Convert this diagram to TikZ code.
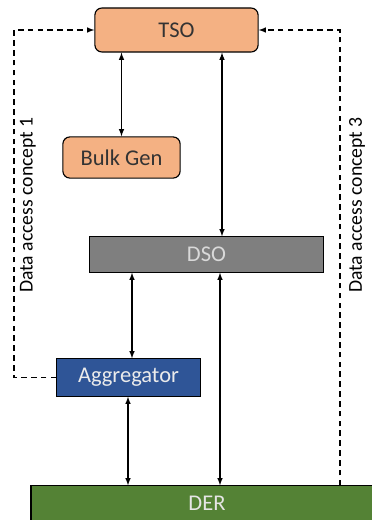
\documentclass[tikz,border=0pt]{standalone}
\usepackage{fontspec}
\setmainfont{Carlito}
\usepackage{tikz}
\usetikzlibrary{arrows}
\usepackage{xcolor}
\definecolor{tsoorange}{HTML}{F4B183}
\definecolor{dsogray}{HTML}{7F7F7F}
\definecolor{aggblue}{HTML}{2F5597}
\definecolor{dergreen}{HTML}{548235}

\begin{document}
\begin{tikzpicture}[x=0.025cm,y=-0.025cm,>=latex,
  box/.style={draw,line width=0.8pt,inner sep=0pt,font=\fontsize{16}{19}\selectfont},
  label/.style={rotate=90,font=\fontsize{14}{16}\selectfont}]
\useasboundingbox (0,0) rectangle (372,520);

\node[box,rounded corners=5pt,fill=tsoorange,text=black!80,minimum width=4.08cm,minimum height=1.1cm] (tso) at (176.5,30) {TSO};
\node[box,rounded corners=5pt,fill=tsoorange,text=black!80,minimum width=2.93cm,minimum height=1.03cm] (bulk) at (121.5,157.5) {Bulk Gen};
\node[box,fill=dsogray,text=black!15,minimum width=5.83cm,minimum height=0.88cm] (dso) at (206.5,254.5) {DSO};
\node[box,fill=aggblue,text=black!8,minimum width=3.58cm,minimum height=0.93cm] (agg) at (128.5,377.5) {Aggregator};
\node[box,fill=dergreen,text=black!10,minimum width=8.8cm,minimum height=0.88cm] (der) at (207,503.5) {DER};

\coordinate (a1) at (222,0);
\coordinate (a2) at (220,0);
\coordinate (a3) at (132,0);
\coordinate (a4) at (128,0);
\coordinate (lx) at (14,0);
\coordinate (rx) at (340,0);

\draw[<->,line width=0.8pt] (bulk.north |- tso.south) -- (bulk.north);
\draw[<->,line width=0.8pt] (tso.south -| a1) -- (dso.north -| a1);
\draw[<->,line width=0.8pt] (dso.south -| a2) -- (der.north -| a2);
\draw[<->,line width=0.8pt] (dso.south -| a3) -- (agg.north -| a3);
\draw[<->,line width=0.8pt] (agg.south -| a4) -- (der.north -| a4);

\draw[->,dash pattern=on 4pt off 3pt,line width=0.8pt] (agg.west) -- (agg.west -| lx) |- (tso.west);
\draw[->,dash pattern=on 4pt off 3pt,line width=0.8pt] (der.north -| rx) |- (tso.east);

\node[label] (dac1) at (28,205) {Data access concept 1};
\node[label] (dac3) at (357,205) {Data access concept 3};

\end{tikzpicture}
\end{document}
